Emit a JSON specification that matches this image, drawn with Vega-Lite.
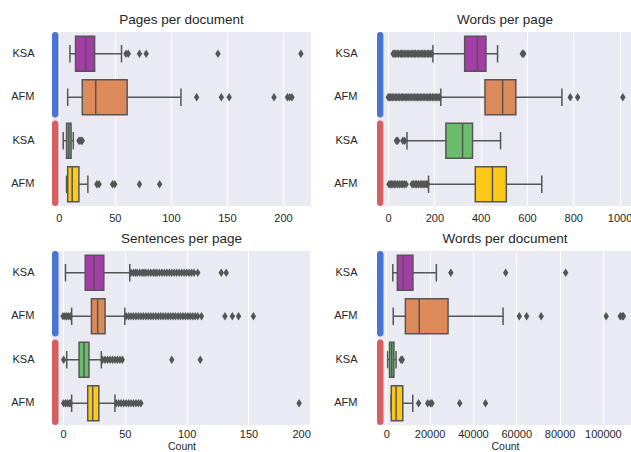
{
"$schema": "https://vega.github.io/schema/vega-lite/v6.json",
"padding": {"left": 10, "top": 12, "right": 0, "bottom": 0},
"datasets": {
"groups": [{"group": "g1"}, {"group": "g2"}],
"stats": [
{"panel": "pages", "cat": "KSA1", "lo": 10, "q1": 15, "med": 24, "q3": 32, "hi": 56},
{"panel": "pages", "cat": "AFM1", "lo": 8, "q1": 21, "med": 33, "q3": 61, "hi": 109},
{"panel": "pages", "cat": "KSA2", "lo": 4, "q1": 7, "med": 9, "q3": 11, "hi": 13},
{"panel": "pages", "cat": "AFM2", "lo": 7, "q1": 8, "med": 12, "q3": 18, "hi": 26},
{"panel": "wpp", "cat": "KSA1", "lo": 194, "q1": 331, "med": 386, "q3": 423, "hi": 473},
{"panel": "wpp", "cat": "AFM1", "lo": 228, "q1": 419, "med": 495, "q3": 552, "hi": 751},
{"panel": "wpp", "cat": "KSA2", "lo": 82, "q1": 250, "med": 322, "q3": 365, "hi": 486},
{"panel": "wpp", "cat": "AFM2", "lo": 175, "q1": 377, "med": 451, "q3": 511, "hi": 664},
{"panel": "spp", "cat": "KSA1", "lo": 2, "q1": 18, "med": 25, "q3": 33, "hi": 54},
{"panel": "spp", "cat": "AFM1", "lo": 7, "q1": 23, "med": 28, "q3": 34, "hi": 50},
{"panel": "spp", "cat": "KSA2", "lo": 3, "q1": 13, "med": 17, "q3": 21, "hi": 31},
{"panel": "spp", "cat": "AFM2", "lo": 7, "q1": 20, "med": 24, "q3": 29, "hi": 42},
{"panel": "wpd", "cat": "KSA1", "lo": 3000, "q1": 5100, "med": 7700, "q3": 12300, "hi": 23100},
{"panel": "wpd", "cat": "AFM1", "lo": 3200, "q1": 8800, "med": 15200, "q3": 28500, "hi": 53900},
{"panel": "wpd", "cat": "KSA2", "lo": 600, "q1": 1500, "med": 2500, "q3": 3500, "hi": 4500},
{"panel": "wpd", "cat": "AFM2", "lo": 2200, "q1": 2300, "med": 4500, "q3": 7600, "hi": 12200}
],
"out": [
{"panel": "pages", "cat": "KSA1", "v": 60}, {"panel": "pages", "cat": "KSA1", "v": 62}, {"panel": "pages", "cat": "KSA1", "v": 72}, {"panel": "pages", "cat": "KSA1", "v": 78}, {"panel": "pages", "cat": "KSA1", "v": 142}, {"panel": "pages", "cat": "KSA1", "v": 216},
{"panel": "pages", "cat": "AFM1", "v": 123}, {"panel": "pages", "cat": "AFM1", "v": 145}, {"panel": "pages", "cat": "AFM1", "v": 152}, {"panel": "pages", "cat": "AFM1", "v": 192}, {"panel": "pages", "cat": "AFM1", "v": 204}, {"panel": "pages", "cat": "AFM1", "v": 206}, {"panel": "pages", "cat": "AFM1", "v": 208},
{"panel": "pages", "cat": "KSA2", "v": 18}, {"panel": "pages", "cat": "KSA2", "v": 19}, {"panel": "pages", "cat": "KSA2", "v": 20}, {"panel": "pages", "cat": "KSA2", "v": 21},
{"panel": "pages", "cat": "AFM2", "v": 34}, {"panel": "pages", "cat": "AFM2", "v": 36}, {"panel": "pages", "cat": "AFM2", "v": 48}, {"panel": "pages", "cat": "AFM2", "v": 50}, {"panel": "pages", "cat": "AFM2", "v": 72}, {"panel": "pages", "cat": "AFM2", "v": 90},
{"panel": "wpp", "cat": "KSA1", "v": 22}, {"panel": "wpp", "cat": "KSA1", "v": 27}, {"panel": "wpp", "cat": "KSA1", "v": 33}, {"panel": "wpp", "cat": "KSA1", "v": 39}, {"panel": "wpp", "cat": "KSA1", "v": 45}, {"panel": "wpp", "cat": "KSA1", "v": 53}, {"panel": "wpp", "cat": "KSA1", "v": 58}, {"panel": "wpp", "cat": "KSA1", "v": 64}, {"panel": "wpp", "cat": "KSA1", "v": 70}, {"panel": "wpp", "cat": "KSA1", "v": 77}, {"panel": "wpp", "cat": "KSA1", "v": 83}, {"panel": "wpp", "cat": "KSA1", "v": 88}, {"panel": "wpp", "cat": "KSA1", "v": 95}, {"panel": "wpp", "cat": "KSA1", "v": 101}, {"panel": "wpp", "cat": "KSA1", "v": 108}, {"panel": "wpp", "cat": "KSA1", "v": 114}, {"panel": "wpp", "cat": "KSA1", "v": 119}, {"panel": "wpp", "cat": "KSA1", "v": 126}, {"panel": "wpp", "cat": "KSA1", "v": 132}, {"panel": "wpp", "cat": "KSA1", "v": 138}, {"panel": "wpp", "cat": "KSA1", "v": 145}, {"panel": "wpp", "cat": "KSA1", "v": 151}, {"panel": "wpp", "cat": "KSA1", "v": 157}, {"panel": "wpp", "cat": "KSA1", "v": 163}, {"panel": "wpp", "cat": "KSA1", "v": 170}, {"panel": "wpp", "cat": "KSA1", "v": 176}, {"panel": "wpp", "cat": "KSA1", "v": 182}, {"panel": "wpp", "cat": "KSA1", "v": 189}, {"panel": "wpp", "cat": "KSA1", "v": 580}, {"panel": "wpp", "cat": "KSA1", "v": 586},
{"panel": "wpp", "cat": "AFM1", "v": 1}, {"panel": "wpp", "cat": "AFM1", "v": 6}, {"panel": "wpp", "cat": "AFM1", "v": 12}, {"panel": "wpp", "cat": "AFM1", "v": 18}, {"panel": "wpp", "cat": "AFM1", "v": 25}, {"panel": "wpp", "cat": "AFM1", "v": 31}, {"panel": "wpp", "cat": "AFM1", "v": 37}, {"panel": "wpp", "cat": "AFM1", "v": 44}, {"panel": "wpp", "cat": "AFM1", "v": 50}, {"panel": "wpp", "cat": "AFM1", "v": 57}, {"panel": "wpp", "cat": "AFM1", "v": 63}, {"panel": "wpp", "cat": "AFM1", "v": 69}, {"panel": "wpp", "cat": "AFM1", "v": 76}, {"panel": "wpp", "cat": "AFM1", "v": 82}, {"panel": "wpp", "cat": "AFM1", "v": 88}, {"panel": "wpp", "cat": "AFM1", "v": 95}, {"panel": "wpp", "cat": "AFM1", "v": 101}, {"panel": "wpp", "cat": "AFM1", "v": 108}, {"panel": "wpp", "cat": "AFM1", "v": 114}, {"panel": "wpp", "cat": "AFM1", "v": 121}, {"panel": "wpp", "cat": "AFM1", "v": 127}, {"panel": "wpp", "cat": "AFM1", "v": 133}, {"panel": "wpp", "cat": "AFM1", "v": 140}, {"panel": "wpp", "cat": "AFM1", "v": 146}, {"panel": "wpp", "cat": "AFM1", "v": 152}, {"panel": "wpp", "cat": "AFM1", "v": 159}, {"panel": "wpp", "cat": "AFM1", "v": 165}, {"panel": "wpp", "cat": "AFM1", "v": 172}, {"panel": "wpp", "cat": "AFM1", "v": 178}, {"panel": "wpp", "cat": "AFM1", "v": 184}, {"panel": "wpp", "cat": "AFM1", "v": 191}, {"panel": "wpp", "cat": "AFM1", "v": 197}, {"panel": "wpp", "cat": "AFM1", "v": 204}, {"panel": "wpp", "cat": "AFM1", "v": 210}, {"panel": "wpp", "cat": "AFM1", "v": 216}, {"panel": "wpp", "cat": "AFM1", "v": 223}, {"panel": "wpp", "cat": "AFM1", "v": 787}, {"panel": "wpp", "cat": "AFM1", "v": 819}, {"panel": "wpp", "cat": "AFM1", "v": 1014},
{"panel": "wpp", "cat": "KSA2", "v": 36}, {"panel": "wpp", "cat": "KSA2", "v": 42}, {"panel": "wpp", "cat": "KSA2", "v": 64}, {"panel": "wpp", "cat": "KSA2", "v": 72},
{"panel": "wpp", "cat": "AFM2", "v": 4}, {"panel": "wpp", "cat": "AFM2", "v": 9}, {"panel": "wpp", "cat": "AFM2", "v": 15}, {"panel": "wpp", "cat": "AFM2", "v": 21}, {"panel": "wpp", "cat": "AFM2", "v": 27}, {"panel": "wpp", "cat": "AFM2", "v": 34}, {"panel": "wpp", "cat": "AFM2", "v": 41}, {"panel": "wpp", "cat": "AFM2", "v": 49}, {"panel": "wpp", "cat": "AFM2", "v": 57}, {"panel": "wpp", "cat": "AFM2", "v": 63}, {"panel": "wpp", "cat": "AFM2", "v": 70}, {"panel": "wpp", "cat": "AFM2", "v": 78}, {"panel": "wpp", "cat": "AFM2", "v": 104}, {"panel": "wpp", "cat": "AFM2", "v": 110}, {"panel": "wpp", "cat": "AFM2", "v": 117}, {"panel": "wpp", "cat": "AFM2", "v": 124}, {"panel": "wpp", "cat": "AFM2", "v": 131}, {"panel": "wpp", "cat": "AFM2", "v": 139}, {"panel": "wpp", "cat": "AFM2", "v": 146}, {"panel": "wpp", "cat": "AFM2", "v": 152}, {"panel": "wpp", "cat": "AFM2", "v": 159}, {"panel": "wpp", "cat": "AFM2", "v": 165}, {"panel": "wpp", "cat": "AFM2", "v": 171},
{"panel": "spp", "cat": "KSA1", "v": 55}, {"panel": "spp", "cat": "KSA1", "v": 57}, {"panel": "spp", "cat": "KSA1", "v": 58.5}, {"panel": "spp", "cat": "KSA1", "v": 60}, {"panel": "spp", "cat": "KSA1", "v": 62}, {"panel": "spp", "cat": "KSA1", "v": 64}, {"panel": "spp", "cat": "KSA1", "v": 65.5}, {"panel": "spp", "cat": "KSA1", "v": 67}, {"panel": "spp", "cat": "KSA1", "v": 69}, {"panel": "spp", "cat": "KSA1", "v": 71}, {"panel": "spp", "cat": "KSA1", "v": 73}, {"panel": "spp", "cat": "KSA1", "v": 74.5}, {"panel": "spp", "cat": "KSA1", "v": 76}, {"panel": "spp", "cat": "KSA1", "v": 78}, {"panel": "spp", "cat": "KSA1", "v": 80}, {"panel": "spp", "cat": "KSA1", "v": 82}, {"panel": "spp", "cat": "KSA1", "v": 84}, {"panel": "spp", "cat": "KSA1", "v": 86}, {"panel": "spp", "cat": "KSA1", "v": 88}, {"panel": "spp", "cat": "KSA1", "v": 90}, {"panel": "spp", "cat": "KSA1", "v": 92}, {"panel": "spp", "cat": "KSA1", "v": 94}, {"panel": "spp", "cat": "KSA1", "v": 96}, {"panel": "spp", "cat": "KSA1", "v": 98}, {"panel": "spp", "cat": "KSA1", "v": 100}, {"panel": "spp", "cat": "KSA1", "v": 102}, {"panel": "spp", "cat": "KSA1", "v": 104}, {"panel": "spp", "cat": "KSA1", "v": 106}, {"panel": "spp", "cat": "KSA1", "v": 109}, {"panel": "spp", "cat": "KSA1", "v": 128}, {"panel": "spp", "cat": "KSA1", "v": 132},
{"panel": "spp", "cat": "AFM1", "v": 0}, {"panel": "spp", "cat": "AFM1", "v": 1.5}, {"panel": "spp", "cat": "AFM1", "v": 3}, {"panel": "spp", "cat": "AFM1", "v": 4.5}, {"panel": "spp", "cat": "AFM1", "v": 6}, {"panel": "spp", "cat": "AFM1", "v": 51}, {"panel": "spp", "cat": "AFM1", "v": 53}, {"panel": "spp", "cat": "AFM1", "v": 55}, {"panel": "spp", "cat": "AFM1", "v": 57}, {"panel": "spp", "cat": "AFM1", "v": 59}, {"panel": "spp", "cat": "AFM1", "v": 61}, {"panel": "spp", "cat": "AFM1", "v": 63}, {"panel": "spp", "cat": "AFM1", "v": 65}, {"panel": "spp", "cat": "AFM1", "v": 67}, {"panel": "spp", "cat": "AFM1", "v": 69}, {"panel": "spp", "cat": "AFM1", "v": 71}, {"panel": "spp", "cat": "AFM1", "v": 73}, {"panel": "spp", "cat": "AFM1", "v": 75}, {"panel": "spp", "cat": "AFM1", "v": 77}, {"panel": "spp", "cat": "AFM1", "v": 79}, {"panel": "spp", "cat": "AFM1", "v": 81}, {"panel": "spp", "cat": "AFM1", "v": 83}, {"panel": "spp", "cat": "AFM1", "v": 85}, {"panel": "spp", "cat": "AFM1", "v": 87}, {"panel": "spp", "cat": "AFM1", "v": 89}, {"panel": "spp", "cat": "AFM1", "v": 91}, {"panel": "spp", "cat": "AFM1", "v": 93}, {"panel": "spp", "cat": "AFM1", "v": 95}, {"panel": "spp", "cat": "AFM1", "v": 97}, {"panel": "spp", "cat": "AFM1", "v": 99}, {"panel": "spp", "cat": "AFM1", "v": 101}, {"panel": "spp", "cat": "AFM1", "v": 103}, {"panel": "spp", "cat": "AFM1", "v": 105}, {"panel": "spp", "cat": "AFM1", "v": 107}, {"panel": "spp", "cat": "AFM1", "v": 109}, {"panel": "spp", "cat": "AFM1", "v": 112}, {"panel": "spp", "cat": "AFM1", "v": 131}, {"panel": "spp", "cat": "AFM1", "v": 137}, {"panel": "spp", "cat": "AFM1", "v": 142}, {"panel": "spp", "cat": "AFM1", "v": 154},
{"panel": "spp", "cat": "KSA2", "v": 0.5}, {"panel": "spp", "cat": "KSA2", "v": 32}, {"panel": "spp", "cat": "KSA2", "v": 34}, {"panel": "spp", "cat": "KSA2", "v": 36}, {"panel": "spp", "cat": "KSA2", "v": 38}, {"panel": "spp", "cat": "KSA2", "v": 40}, {"panel": "spp", "cat": "KSA2", "v": 42}, {"panel": "spp", "cat": "KSA2", "v": 44}, {"panel": "spp", "cat": "KSA2", "v": 46}, {"panel": "spp", "cat": "KSA2", "v": 48}, {"panel": "spp", "cat": "KSA2", "v": 88}, {"panel": "spp", "cat": "KSA2", "v": 111},
{"panel": "spp", "cat": "AFM2", "v": 0.5}, {"panel": "spp", "cat": "AFM2", "v": 2}, {"panel": "spp", "cat": "AFM2", "v": 3.5}, {"panel": "spp", "cat": "AFM2", "v": 5}, {"panel": "spp", "cat": "AFM2", "v": 6}, {"panel": "spp", "cat": "AFM2", "v": 43}, {"panel": "spp", "cat": "AFM2", "v": 45}, {"panel": "spp", "cat": "AFM2", "v": 47}, {"panel": "spp", "cat": "AFM2", "v": 49}, {"panel": "spp", "cat": "AFM2", "v": 51}, {"panel": "spp", "cat": "AFM2", "v": 53}, {"panel": "spp", "cat": "AFM2", "v": 55}, {"panel": "spp", "cat": "AFM2", "v": 57}, {"panel": "spp", "cat": "AFM2", "v": 59}, {"panel": "spp", "cat": "AFM2", "v": 61}, {"panel": "spp", "cat": "AFM2", "v": 63}, {"panel": "spp", "cat": "AFM2", "v": 191},
{"panel": "wpd", "cat": "KSA1", "v": 29800}, {"panel": "wpd", "cat": "KSA1", "v": 55100}, {"panel": "wpd", "cat": "KSA1", "v": 82800},
{"panel": "wpd", "cat": "AFM1", "v": 61400}, {"panel": "wpd", "cat": "AFM1", "v": 64800}, {"panel": "wpd", "cat": "AFM1", "v": 71500}, {"panel": "wpd", "cat": "AFM1", "v": 101500}, {"panel": "wpd", "cat": "AFM1", "v": 108000}, {"panel": "wpd", "cat": "AFM1", "v": 108900}, {"panel": "wpd", "cat": "AFM1", "v": 109500},
{"panel": "wpd", "cat": "KSA2", "v": 6800}, {"panel": "wpd", "cat": "KSA2", "v": 7400},
{"panel": "wpd", "cat": "AFM2", "v": 14900}, {"panel": "wpd", "cat": "AFM2", "v": 19100}, {"panel": "wpd", "cat": "AFM2", "v": 20400}, {"panel": "wpd", "cat": "AFM2", "v": 21100}, {"panel": "wpd", "cat": "AFM2", "v": 33900}, {"panel": "wpd", "cat": "AFM2", "v": 45800}
]
},
"columns": 2,
"spacing": {"row": 45, "column": 66},
"bounds": "flush",
"concat": [
{
"title": "Pages per document", "width": 259, "height": 174,
"resolve": {"scale": {"y": "independent", "color": "independent"}},
"layer": [
{"layer": [
{"data": {"name": "stats"}, "transform": [{"filter": "datum.panel === 'pages'"}], "mark": {"type": "rule", "color": "#555555", "strokeWidth": 1.5},
 "encoding": {"y": {"field": "cat", "type": "nominal", "sort": null, "scale": {"domain": ["KSA1", "AFM1", "KSA2", "AFM2"], "paddingInner": 0, "paddingOuter": 0}, "axis": {"labelExpr": "slice(datum.value, 0, 3)", "title": null, "labelPadding": 18}},
 "x": {"field": "lo", "type": "quantitative", "scale": {"domain": [-6, 225], "nice": false, "zero": false}, "axis": {"values": [0, 50, 100, 150, 200], "format": "d", "title": null, "labelPadding": 6}}, "x2": {"field": "hi"}}},
{"data": {"name": "stats"}, "transform": [{"filter": "datum.panel === 'pages'"}], "mark": {"type": "tick", "color": "#555555", "thickness": 1.5, "size": 17.4, "opacity": 1},
 "encoding": {"y": {"field": "cat", "type": "nominal", "sort": null, "scale": {"domain": ["KSA1", "AFM1", "KSA2", "AFM2"], "paddingInner": 0, "paddingOuter": 0}}, "x": {"field": "lo", "type": "quantitative", "scale": {"domain": [-6, 225], "nice": false, "zero": false}}}},
{"data": {"name": "stats"}, "transform": [{"filter": "datum.panel === 'pages'"}], "mark": {"type": "tick", "color": "#555555", "thickness": 1.5, "size": 17.4, "opacity": 1},
 "encoding": {"y": {"field": "cat", "type": "nominal", "sort": null, "scale": {"domain": ["KSA1", "AFM1", "KSA2", "AFM2"], "paddingInner": 0, "paddingOuter": 0}}, "x": {"field": "hi", "type": "quantitative", "scale": {"domain": [-6, 225], "nice": false, "zero": false}}}},
{"data": {"name": "stats"}, "transform": [{"filter": "datum.panel === 'pages'"}], "mark": {"type": "bar", "stroke": "#555555", "strokeWidth": 1.5, "height": {"band": 0.8}, "opacity": 1},
 "encoding": {"y": {"field": "cat", "type": "nominal", "sort": null, "scale": {"domain": ["KSA1", "AFM1", "KSA2", "AFM2"], "paddingInner": 0, "paddingOuter": 0}}, "x": {"field": "q1", "type": "quantitative", "scale": {"domain": [-6, 225], "nice": false, "zero": false}}, "x2": {"field": "q3"},
 "color": {"field": "cat", "type": "nominal", "scale": {"domain": ["KSA1", "AFM1", "KSA2", "AFM2"], "range": ["#a23ea5", "#dd8a5b", "#6abd6b", "#fdc918"]}, "legend": null}}},
{"data": {"name": "stats"}, "transform": [{"filter": "datum.panel === 'pages'"}], "mark": {"type": "tick", "color": "#555555", "thickness": 1.5, "size": 34.8, "opacity": 1},
 "encoding": {"y": {"field": "cat", "type": "nominal", "sort": null, "scale": {"domain": ["KSA1", "AFM1", "KSA2", "AFM2"], "paddingInner": 0, "paddingOuter": 0}}, "x": {"field": "med", "type": "quantitative", "scale": {"domain": [-6, 225], "nice": false, "zero": false}}}},
{"data": {"name": "out"}, "transform": [{"filter": "datum.panel === 'pages'"}], "mark": {"type": "point", "shape": "M0,-1L0.65,0L0,1L-0.65,0Z", "filled": true, "color": "#555555", "size": 70, "opacity": 1},
 "encoding": {"y": {"field": "cat", "type": "nominal", "sort": null, "scale": {"domain": ["KSA1", "AFM1", "KSA2", "AFM2"], "paddingInner": 0, "paddingOuter": 0}}, "x": {"field": "v", "type": "quantitative", "scale": {"domain": [-6, 225], "nice": false, "zero": false}}}}
]},
{"data": {"name": "groups"}, "mark": {"type": "bar", "cornerRadius": 3},
 "encoding": {"y": {"field": "group", "type": "nominal", "sort": null, "scale": {"domain": ["g1", "g2"], "paddingInner": 0.035, "paddingOuter": 0}, "axis": null},
 "x": {"datum": -6, "type": "quantitative", "scale": {"domain": [-6, 225], "nice": false, "zero": false}}, "x2": {"datum": -0.3},
 "color": {"field": "group", "type": "nominal", "scale": {"domain": ["g1", "g2"], "range": ["#4a74d4", "#d65f5f"]}, "legend": null}}}
]
},
{
"title": "Words per page", "width": 256, "height": 174,
"resolve": {"scale": {"y": "independent", "color": "independent"}},
"layer": [
{"layer": [
{"data": {"name": "stats"}, "transform": [{"filter": "datum.panel === 'wpp'"}], "mark": {"type": "rule", "color": "#555555", "strokeWidth": 1.5},
 "encoding": {"y": {"field": "cat", "type": "nominal", "sort": null, "scale": {"domain": ["KSA1", "AFM1", "KSA2", "AFM2"], "paddingInner": 0, "paddingOuter": 0}, "axis": {"labelExpr": "slice(datum.value, 0, 3)", "title": null, "labelPadding": 20}},
 "x": {"field": "lo", "type": "quantitative", "scale": {"domain": [-47.5, 1058], "nice": false, "zero": false}, "axis": {"values": [0, 200, 400, 600, 800, 1000], "format": "d", "title": null, "labelPadding": 6}}, "x2": {"field": "hi"}}},
{"data": {"name": "stats"}, "transform": [{"filter": "datum.panel === 'wpp'"}], "mark": {"type": "tick", "color": "#555555", "thickness": 1.5, "size": 17.4, "opacity": 1},
 "encoding": {"y": {"field": "cat", "type": "nominal", "sort": null, "scale": {"domain": ["KSA1", "AFM1", "KSA2", "AFM2"], "paddingInner": 0, "paddingOuter": 0}}, "x": {"field": "lo", "type": "quantitative", "scale": {"domain": [-47.5, 1058], "nice": false, "zero": false}}}},
{"data": {"name": "stats"}, "transform": [{"filter": "datum.panel === 'wpp'"}], "mark": {"type": "tick", "color": "#555555", "thickness": 1.5, "size": 17.4, "opacity": 1},
 "encoding": {"y": {"field": "cat", "type": "nominal", "sort": null, "scale": {"domain": ["KSA1", "AFM1", "KSA2", "AFM2"], "paddingInner": 0, "paddingOuter": 0}}, "x": {"field": "hi", "type": "quantitative", "scale": {"domain": [-47.5, 1058], "nice": false, "zero": false}}}},
{"data": {"name": "stats"}, "transform": [{"filter": "datum.panel === 'wpp'"}], "mark": {"type": "bar", "stroke": "#555555", "strokeWidth": 1.5, "height": {"band": 0.8}, "opacity": 1},
 "encoding": {"y": {"field": "cat", "type": "nominal", "sort": null, "scale": {"domain": ["KSA1", "AFM1", "KSA2", "AFM2"], "paddingInner": 0, "paddingOuter": 0}}, "x": {"field": "q1", "type": "quantitative", "scale": {"domain": [-47.5, 1058], "nice": false, "zero": false}}, "x2": {"field": "q3"},
 "color": {"field": "cat", "type": "nominal", "scale": {"domain": ["KSA1", "AFM1", "KSA2", "AFM2"], "range": ["#a23ea5", "#dd8a5b", "#6abd6b", "#fdc918"]}, "legend": null}}},
{"data": {"name": "stats"}, "transform": [{"filter": "datum.panel === 'wpp'"}], "mark": {"type": "tick", "color": "#555555", "thickness": 1.5, "size": 34.8, "opacity": 1},
 "encoding": {"y": {"field": "cat", "type": "nominal", "sort": null, "scale": {"domain": ["KSA1", "AFM1", "KSA2", "AFM2"], "paddingInner": 0, "paddingOuter": 0}}, "x": {"field": "med", "type": "quantitative", "scale": {"domain": [-47.5, 1058], "nice": false, "zero": false}}}},
{"data": {"name": "out"}, "transform": [{"filter": "datum.panel === 'wpp'"}], "mark": {"type": "point", "shape": "M0,-1L0.65,0L0,1L-0.65,0Z", "filled": true, "color": "#555555", "size": 70, "opacity": 1},
 "encoding": {"y": {"field": "cat", "type": "nominal", "sort": null, "scale": {"domain": ["KSA1", "AFM1", "KSA2", "AFM2"], "paddingInner": 0, "paddingOuter": 0}}, "x": {"field": "v", "type": "quantitative", "scale": {"domain": [-47.5, 1058], "nice": false, "zero": false}}}}
]},
{"data": {"name": "groups"}, "mark": {"type": "bar", "cornerRadius": 3},
 "encoding": {"y": {"field": "group", "type": "nominal", "sort": null, "scale": {"domain": ["g1", "g2"], "paddingInner": 0.035, "paddingOuter": 0}, "axis": null},
 "x": {"datum": -47.5, "type": "quantitative", "scale": {"domain": [-47.5, 1058], "nice": false, "zero": false}}, "x2": {"datum": -20},
 "color": {"field": "group", "type": "nominal", "scale": {"domain": ["g1", "g2"], "range": ["#4a74d4", "#d65f5f"]}, "legend": null}}}
]
},
{
"title": "Sentences per page", "width": 259, "height": 174,
"resolve": {"scale": {"y": "independent", "color": "independent"}},
"layer": [
{"layer": [
{"data": {"name": "stats"}, "transform": [{"filter": "datum.panel === 'spp'"}], "mark": {"type": "rule", "color": "#555555", "strokeWidth": 1.5},
 "encoding": {"y": {"field": "cat", "type": "nominal", "sort": null, "scale": {"domain": ["KSA1", "AFM1", "KSA2", "AFM2"], "paddingInner": 0, "paddingOuter": 0}, "axis": {"labelExpr": "slice(datum.value, 0, 3)", "title": null, "labelPadding": 18}},
 "x": {"field": "lo", "type": "quantitative", "scale": {"domain": [-8.9, 200.6], "nice": false, "zero": false}, "axis": {"values": [0, 50, 100, 150, 200], "format": "d", "title": "Count"}}, "x2": {"field": "hi"}}},
{"data": {"name": "stats"}, "transform": [{"filter": "datum.panel === 'spp'"}], "mark": {"type": "tick", "color": "#555555", "thickness": 1.5, "size": 17.4, "opacity": 1},
 "encoding": {"y": {"field": "cat", "type": "nominal", "sort": null, "scale": {"domain": ["KSA1", "AFM1", "KSA2", "AFM2"], "paddingInner": 0, "paddingOuter": 0}}, "x": {"field": "lo", "type": "quantitative", "scale": {"domain": [-8.9, 200.6], "nice": false, "zero": false}}}},
{"data": {"name": "stats"}, "transform": [{"filter": "datum.panel === 'spp'"}], "mark": {"type": "tick", "color": "#555555", "thickness": 1.5, "size": 17.4, "opacity": 1},
 "encoding": {"y": {"field": "cat", "type": "nominal", "sort": null, "scale": {"domain": ["KSA1", "AFM1", "KSA2", "AFM2"], "paddingInner": 0, "paddingOuter": 0}}, "x": {"field": "hi", "type": "quantitative", "scale": {"domain": [-8.9, 200.6], "nice": false, "zero": false}}}},
{"data": {"name": "stats"}, "transform": [{"filter": "datum.panel === 'spp'"}], "mark": {"type": "bar", "stroke": "#555555", "strokeWidth": 1.5, "height": {"band": 0.8}, "opacity": 1},
 "encoding": {"y": {"field": "cat", "type": "nominal", "sort": null, "scale": {"domain": ["KSA1", "AFM1", "KSA2", "AFM2"], "paddingInner": 0, "paddingOuter": 0}}, "x": {"field": "q1", "type": "quantitative", "scale": {"domain": [-8.9, 200.6], "nice": false, "zero": false}}, "x2": {"field": "q3"},
 "color": {"field": "cat", "type": "nominal", "scale": {"domain": ["KSA1", "AFM1", "KSA2", "AFM2"], "range": ["#a23ea5", "#dd8a5b", "#6abd6b", "#fdc918"]}, "legend": null}}},
{"data": {"name": "stats"}, "transform": [{"filter": "datum.panel === 'spp'"}], "mark": {"type": "tick", "color": "#555555", "thickness": 1.5, "size": 34.8, "opacity": 1},
 "encoding": {"y": {"field": "cat", "type": "nominal", "sort": null, "scale": {"domain": ["KSA1", "AFM1", "KSA2", "AFM2"], "paddingInner": 0, "paddingOuter": 0}}, "x": {"field": "med", "type": "quantitative", "scale": {"domain": [-8.9, 200.6], "nice": false, "zero": false}}}},
{"data": {"name": "out"}, "transform": [{"filter": "datum.panel === 'spp'"}], "mark": {"type": "point", "shape": "M0,-1L0.65,0L0,1L-0.65,0Z", "filled": true, "color": "#555555", "size": 70, "opacity": 1},
 "encoding": {"y": {"field": "cat", "type": "nominal", "sort": null, "scale": {"domain": ["KSA1", "AFM1", "KSA2", "AFM2"], "paddingInner": 0, "paddingOuter": 0}}, "x": {"field": "v", "type": "quantitative", "scale": {"domain": [-8.9, 200.6], "nice": false, "zero": false}}}}
]},
{"data": {"name": "groups"}, "mark": {"type": "bar", "cornerRadius": 3},
 "encoding": {"y": {"field": "group", "type": "nominal", "sort": null, "scale": {"domain": ["g1", "g2"], "paddingInner": 0.035, "paddingOuter": 0}, "axis": null},
 "x": {"datum": -8.9, "type": "quantitative", "scale": {"domain": [-8.9, 200.6], "nice": false, "zero": false}}, "x2": {"datum": -3.6},
 "color": {"field": "group", "type": "nominal", "scale": {"domain": ["g1", "g2"], "range": ["#4a74d4", "#d65f5f"]}, "legend": null}}}
]
},
{
"title": "Words per document", "width": 256, "height": 174,
"resolve": {"scale": {"y": "independent", "color": "independent"}},
"layer": [
{"layer": [
{"data": {"name": "stats"}, "transform": [{"filter": "datum.panel === 'wpd'"}], "mark": {"type": "rule", "color": "#555555", "strokeWidth": 1.5},
 "encoding": {"y": {"field": "cat", "type": "nominal", "sort": null, "scale": {"domain": ["KSA1", "AFM1", "KSA2", "AFM2"], "paddingInner": 0, "paddingOuter": 0}, "axis": {"labelExpr": "slice(datum.value, 0, 3)", "title": null, "labelPadding": 20}},
 "x": {"field": "lo", "type": "quantitative", "scale": {"domain": [-4300, 113900], "nice": false, "zero": false}, "axis": {"values": [0, 20000, 40000, 60000, 80000, 100000], "format": "d", "title": "Count"}}, "x2": {"field": "hi"}}},
{"data": {"name": "stats"}, "transform": [{"filter": "datum.panel === 'wpd'"}], "mark": {"type": "tick", "color": "#555555", "thickness": 1.5, "size": 17.4, "opacity": 1},
 "encoding": {"y": {"field": "cat", "type": "nominal", "sort": null, "scale": {"domain": ["KSA1", "AFM1", "KSA2", "AFM2"], "paddingInner": 0, "paddingOuter": 0}}, "x": {"field": "lo", "type": "quantitative", "scale": {"domain": [-4300, 113900], "nice": false, "zero": false}}}},
{"data": {"name": "stats"}, "transform": [{"filter": "datum.panel === 'wpd'"}], "mark": {"type": "tick", "color": "#555555", "thickness": 1.5, "size": 17.4, "opacity": 1},
 "encoding": {"y": {"field": "cat", "type": "nominal", "sort": null, "scale": {"domain": ["KSA1", "AFM1", "KSA2", "AFM2"], "paddingInner": 0, "paddingOuter": 0}}, "x": {"field": "hi", "type": "quantitative", "scale": {"domain": [-4300, 113900], "nice": false, "zero": false}}}},
{"data": {"name": "stats"}, "transform": [{"filter": "datum.panel === 'wpd'"}], "mark": {"type": "bar", "stroke": "#555555", "strokeWidth": 1.5, "height": {"band": 0.8}, "opacity": 1},
 "encoding": {"y": {"field": "cat", "type": "nominal", "sort": null, "scale": {"domain": ["KSA1", "AFM1", "KSA2", "AFM2"], "paddingInner": 0, "paddingOuter": 0}}, "x": {"field": "q1", "type": "quantitative", "scale": {"domain": [-4300, 113900], "nice": false, "zero": false}}, "x2": {"field": "q3"},
 "color": {"field": "cat", "type": "nominal", "scale": {"domain": ["KSA1", "AFM1", "KSA2", "AFM2"], "range": ["#a23ea5", "#dd8a5b", "#6abd6b", "#fdc918"]}, "legend": null}}},
{"data": {"name": "stats"}, "transform": [{"filter": "datum.panel === 'wpd'"}], "mark": {"type": "tick", "color": "#555555", "thickness": 1.5, "size": 34.8, "opacity": 1},
 "encoding": {"y": {"field": "cat", "type": "nominal", "sort": null, "scale": {"domain": ["KSA1", "AFM1", "KSA2", "AFM2"], "paddingInner": 0, "paddingOuter": 0}}, "x": {"field": "med", "type": "quantitative", "scale": {"domain": [-4300, 113900], "nice": false, "zero": false}}}},
{"data": {"name": "out"}, "transform": [{"filter": "datum.panel === 'wpd'"}], "mark": {"type": "point", "shape": "M0,-1L0.65,0L0,1L-0.65,0Z", "filled": true, "color": "#555555", "size": 70, "opacity": 1},
 "encoding": {"y": {"field": "cat", "type": "nominal", "sort": null, "scale": {"domain": ["KSA1", "AFM1", "KSA2", "AFM2"], "paddingInner": 0, "paddingOuter": 0}}, "x": {"field": "v", "type": "quantitative", "scale": {"domain": [-4300, 113900], "nice": false, "zero": false}}}}
]},
{"data": {"name": "groups"}, "mark": {"type": "bar", "cornerRadius": 3},
 "encoding": {"y": {"field": "group", "type": "nominal", "sort": null, "scale": {"domain": ["g1", "g2"], "paddingInner": 0.035, "paddingOuter": 0}, "axis": null},
 "x": {"datum": -4300, "type": "quantitative", "scale": {"domain": [-4300, 113900], "nice": false, "zero": false}}, "x2": {"datum": -1300},
 "color": {"field": "group", "type": "nominal", "scale": {"domain": ["g1", "g2"], "range": ["#4a74d4", "#d65f5f"]}, "legend": null}}}
]
}
],
"config": {
"font": "Liberation Sans",
"view": {"fill": "#eaeaf2", "stroke": null},
"axis": {"domain": false, "ticks": false, "tickSize": 0, "labelFontSize": 11, "labelColor": "#262626", "titleColor": "#262626", "titleFontWeight": "normal", "titleFontSize": 10.5},
"axisX": {"grid": true, "gridColor": "#ffffff", "gridWidth": 1, "labelPadding": 3, "titlePadding": 2},
"axisY": {"grid": false},
"title": {"fontSize": 13.5, "fontWeight": "normal", "color": "#262626", "offset": 6}
}
}
